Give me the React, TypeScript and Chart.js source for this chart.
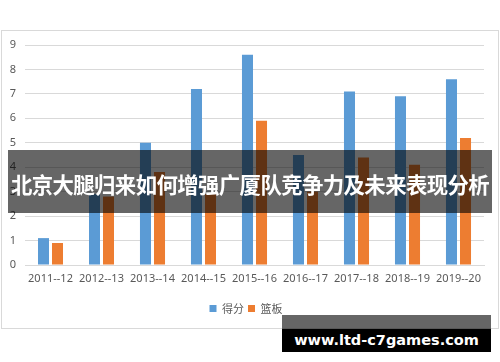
import React, { useEffect, useRef } from "react";
import { Chart, registerables } from "chart.js";

Chart.register(...registerables);

const seasons = ["2011--12", "2012--13", "2013--14", "2014--15", "2015--16", "2016--17", "2017--18", "2018--19", "2019--20"];
const points = [1.1, 2.9, 5.0, 7.2, 8.6, 4.5, 7.1, 6.9, 7.6];
const rebounds = [0.9, 2.8, 3.8, 2.9, 5.9, 3.0, 4.4, 4.1, 5.2];
const seriesNames = ["得分", "篮板"];
const yMin = 0;
const yMax = 9;
const yStep = 1;
const bannerTitle = "北京大腿归来如何增强广厦队竞争力及未来表现分析";
const watermark = "www.ltd-c7games.com";

export default function App() {
  const canvasRef = useRef<HTMLCanvasElement | null>(null);

  useEffect(() => {
    const canvas = canvasRef.current;
    if (!canvas) return;
    const chart = new Chart(canvas, {
      type: "bar",
      data: {
        labels: seasons,
        datasets: [
          {
            label: seriesNames[0],
            data: points,
            backgroundColor: "#5B9BD5",
            categoryPercentage: 0.55,
            barPercentage: 0.786,
          },
          {
            label: seriesNames[1],
            data: rebounds,
            backgroundColor: "#ED7D31",
            categoryPercentage: 0.55,
            barPercentage: 0.786,
          },
        ],
      },
      options: {
        responsive: false,
        devicePixelRatio: 1,
        animation: false,
        layout: { padding: { left: 8, right: 16, top: 45, bottom: 38 } },
        plugins: {
          title: { display: false },
          tooltip: { enabled: false },
          legend: {
            position: "bottom",
            labels: {
              boxWidth: 7,
              boxHeight: 7,
              padding: 4,
              color: "#595959",
              font: { family: "'Noto Sans CJK SC', 'Noto Sans'", size: 11 },
            },
          },
        },
        scales: {
          x: {
            afterFit: (scale: any) => {
              scale.height = 34;
            },
            grid: { display: false, drawTicks: false },
            border: { display: true, color: "#d9d9d9" },
            ticks: {
              color: "#595959",
              padding: 7,
              maxRotation: 0,
              autoSkip: false,
              font: { family: "'Noto Sans'", size: 11 },
            },
          },
          y: {
            min: yMin,
            max: yMax,
            afterFit: (scale: any) => {
              scale.width = 17;
            },
            grid: { color: "#d9d9d9", drawTicks: false },
            border: { display: false },
            ticks: {
              color: "#595959",
              padding: 9,
              stepSize: yStep,
              font: { family: "'Noto Sans'", size: 11 },
            },
          },
        },
      },
    });
    return () => chart.destroy();
  }, []);

  return (
    <div style={{ position: "absolute", left: 0, top: 0, width: 500, height: 362, background: "#fff", overflow: "hidden" }}>
      <div
        style={{
          position: "absolute",
          left: 1,
          top: 30,
          width: 496,
          height: 297,
          border: "1px solid #d9d9d9",
        }}
      />
      <canvas ref={canvasRef} width={500} height={362} style={{ position: "absolute", left: 0, top: 0 }} />
      <div
        style={{
          position: "absolute",
          left: 8,
          top: 150,
          width: 484,
          height: 63,
          background: "rgba(0,0,0,0.6)",
          overflow: "visible",
        }}
      >
        <div
          style={{
            position: "absolute",
            left: -20,
            right: -20,
            top: 1.5,
            lineHeight: "63px",
            textAlign: "center",
            whiteSpace: "nowrap",
            color: "#fff",
            fontWeight: "bold",
            fontSize: 21.4,
            letterSpacing: "-0.6px",
            fontFamily: "'Noto Sans CJK SC', sans-serif",
          }}
        >
          {bannerTitle}
        </div>
      </div>
      <div
        style={{
          position: "absolute",
          left: 282,
          top: 315,
          width: 209,
          height: 14,
          background: "rgba(0,0,0,0.6)",
        }}
      />
      <div
        style={{
          position: "absolute",
          left: 282,
          top: 329,
          width: 209,
          height: 23,
          background: "#000",
          color: "#fff",
          fontWeight: "bold",
          fontSize: 14.5,
          fontFamily: "'DejaVu Sans', sans-serif",
          textAlign: "center",
          lineHeight: "22px",
          whiteSpace: "nowrap",
        }}
      >
        {watermark}
      </div>
    </div>
  );
}
